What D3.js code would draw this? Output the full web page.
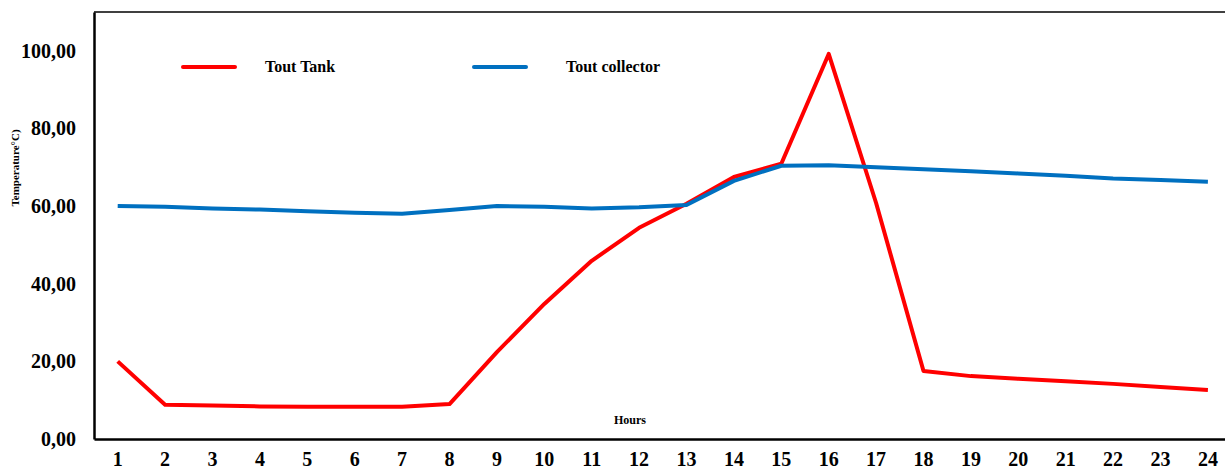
<!DOCTYPE html>
<html lang="fr">
  <head>
    <meta charset="UTF-8" />
    <title>Tout Tank / Tout collector</title>
    <script src="https://d3js.org/d3.v7.min.js"></script>
    <style>
      body {
        margin: 0;
        background: #fff;
        font-family: "Liberation Serif", "Times New Roman", serif;
        font-weight: bold;
      }
      svg {
        display: block;
      }
      .tick text {
        font-family: "Liberation Serif", "Times New Roman", serif;
        font-size: 20px;
        font-weight: bold;
        fill: #000;
      }
      .line {
        fill: none;
        stroke-width: 4px;
        stroke-linejoin: round;
      }
    </style>
  </head>
  <body>
    <svg id="chart" width="1225" height="470"></svg>
    <script>
      // Données
      const hours = d3.range(1, 25).map(String);
      const toutTank = [
        20.0, 8.8, 8.6, 8.4, 8.3, 8.3, 8.3, 9.0, 22.4, 34.8, 45.9, 54.4,
        60.6, 67.5, 70.9, 99.2, 60.8, 17.5, 16.2, 15.5, 14.9, 14.2, 13.4, 12.6,
      ];
      const toutCollector = [
        60.0, 59.8, 59.4, 59.1, 58.7, 58.3, 58.0, 59.0, 60.0, 59.8, 59.4, 59.7,
        60.3, 66.5, 70.4, 70.5, 70.0, 69.5, 69.0, 68.4, 67.8, 67.1, 66.7, 66.3,
      ];
      const yTicks = [0, 20, 40, 60, 80, 100];

      const series = [
        { name: "Tout Tank", values: toutTank, color: "#ff0000" },
        { name: "Tout collector", values: toutCollector, color: "#0070c0" },
      ];

      const svg = d3.select("#chart");
      const margin = { top: 12, left: 94, bottom: 31 };
      const bandW = 47.4;
      const plotBottom = +svg.attr("height") - margin.bottom;

      const x = d3
        .scaleBand()
        .domain(hours)
        .range([margin.left, margin.left + bandW * hours.length]);

      const y = d3.scaleLinear().domain([0, 110]).range([plotBottom, margin.top]);

      // cadre
      svg
        .append("line")
        .attr("x1", margin.left)
        .attr("x2", 1225)
        .attr("y1", margin.top)
        .attr("y2", margin.top)
        .attr("stroke", "#000")
        .attr("stroke-width", 1.5);

      // axe X
      const xAxis = svg
        .append("g")
        .attr("transform", `translate(0,${plotBottom})`)
        .call(d3.axisBottom(x).tickSize(0).tickPadding(13));
      xAxis.select(".domain").attr("stroke", "#000").attr("stroke-width", 2.5);

      // axe Y
      const yAxis = svg
        .append("g")
        .attr("transform", `translate(${margin.left},0)`)
        .call(
          d3
            .axisLeft(y)
            .tickValues(yTicks)
            .tickSize(0)
            .tickPadding(18)
            .tickFormat((d) => d3.format(".2f")(d).replace(".", ","))
        );
      yAxis.select(".domain").attr("stroke", "#000").attr("stroke-width", 2.5);

      // courbes
      const line = d3
        .line()
        .x((d, i) => x(hours[i]) + x.bandwidth() / 2)
        .y((d) => y(d));

      svg
        .selectAll(".line")
        .data(series)
        .join("path")
        .attr("class", "line")
        .attr("stroke", (d) => d.color)
        .attr("d", (d) => line(d.values));

      // légende
      const legendX = [183, 474];
      const legendTextX = [82, 92];
      const legend = svg
        .selectAll(".legend")
        .data(series)
        .join("g")
        .attr("class", "legend")
        .attr("transform", (d, i) => `translate(${legendX[i]},67)`);
      legend
        .append("line")
        .attr("x1", 0)
        .attr("x2", 52)
        .attr("stroke", (d) => d.color)
        .attr("stroke-width", 4)
        .attr("stroke-linecap", "round");
      legend
        .append("text")
        .attr("x", (d, i) => legendTextX[i])
        .attr("y", 5)
        .attr("font-size", 16)
        .text((d) => d.name);

      // titres des axes
      svg
        .append("text")
        .attr("x", 630)
        .attr("y", 424)
        .attr("text-anchor", "middle")
        .attr("font-size", 12)
        .text("Hours");

      svg
        .append("text")
        .attr("transform", "translate(19,168) rotate(-90)")
        .attr("text-anchor", "middle")
        .attr("font-size", 11)
        .text("Temperature°C)");
    </script>
  </body>
</html>
